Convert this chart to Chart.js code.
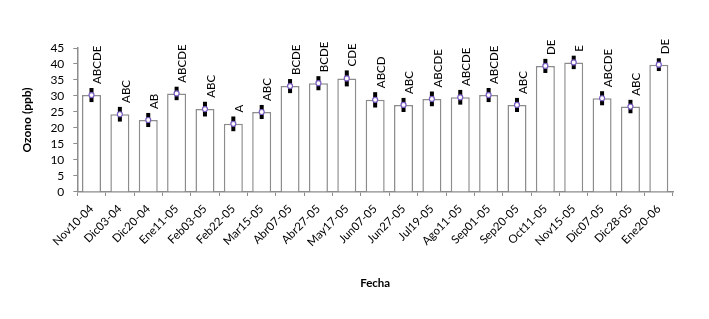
<!DOCTYPE html>
<html><head><meta charset="utf-8">
<script src="https://cdn.jsdelivr.net/npm/chart.js@4/dist/chart.umd.min.js"></script>
<style>html,body{margin:0;padding:0;background:#fff}#wrap{width:709px;height:319px}</style>
</head><body><div id="wrap"><canvas id="c" width="709" height="319"></canvas></div>
<script>
const categories = ["Nov10-04","Dic03-04","Dic20-04","Ene11-05","Feb03-05","Feb22-05","Mar15-05","Abr07-05","Abr27-05","May17-05","Jun07-05","Jun27-05","Jul19-05","Ago11-05","Sep01-05","Sep20-05","Oct11-05","Nov15-05","Dic07-05","Dic28-05","Ene20-06"];
const ozone = [30.3,24.3,22.5,30.8,25.9,21.3,25.0,33.1,34.0,35.5,28.8,27.2,29.1,29.6,30.3,27.2,39.4,40.5,29.3,26.7,39.8];
const errors = [2.2,2.3,2.2,2.1,2.3,2.3,2.2,2.2,2.2,2.5,2.4,2.2,2.3,2.3,2.2,2.2,2.2,2.1,2.2,2.1,2.0];
const letters = ["ABCDE","ABC","AB","ABCDE","ABC","A","ABC","BCDE","BCDE","CDE","ABCD","ABC","ABCDE","ABCDE","ABCDE","ABC","DE","E","ABCDE","ABC","DE"];
const yMin = 0, yMax = 45, yStep = 5;

const FONT = "Lato";
const errPlugin = {
  id: 'errLetters',
  afterDatasetDraw(chart, args) {
    if (args.index !== 0) return;
    const ctx = chart.ctx, y = chart.scales.y, x = chart.scales.x;
    ctx.save();
    ozone.forEach((v, i) => {
      const px = x.getPixelForValue(i);
      const top = y.getPixelForValue(v + errors[i]);
      const bot = y.getPixelForValue(v - errors[i]);
      ctx.strokeStyle = '#000';
      ctx.lineWidth = 4;
      ctx.beginPath(); ctx.moveTo(px, top); ctx.lineTo(px, bot); ctx.stroke();
      ctx.save();
      ctx.translate(px + 6, top - 4);
      ctx.rotate(-Math.PI / 2);
      ctx.fillStyle = '#000';
      ctx.font = '11.5px ' + FONT;
      ctx.textAlign = 'left';
      ctx.textBaseline = 'middle';
      ctx.fillText(letters[i], 0, 0);
      ctx.restore();
    });
    ctx.restore();
  }
};

new Chart(document.getElementById('c'), {
  data: {
    labels: categories,
    datasets: [
      { type: 'bar', data: ozone, backgroundColor: '#ffffff', borderColor: '#8c8c8c', borderWidth: 1.5, categoryPercentage: 1, barPercentage: 0.67, order: 2 },
      { type: 'line', data: ozone, showLine: false, pointStyle: 'circle', pointRadius: 2.5, pointBackgroundColor: '#ffffff', pointBorderColor: '#7b5cc4', pointBorderWidth: 1.2, order: 1 }
    ]
  },
  options: {
    responsive: false, animation: false,
    layout: { padding: { left: 20, right: 36, top: 48, bottom: 29 } },
    plugins: { legend: { display: false }, tooltip: { enabled: false } },
    scales: {
      x: {
        offset: true,
        grid: { offset: true, drawOnChartArea: false, drawTicks: true, tickLength: 4, color: '#8c8c8c' },
        border: { color: '#8c8c8c', width: 1.5 },
        ticks: { minRotation: 45, maxRotation: 45, color: '#000', font: { family: FONT, size: 11.5 }, padding: 6, autoSkip: false },
        title: { display: true, text: 'Fecha', color: '#000', font: { family: FONT, size: 11.5, weight: 'bold' }, padding: { top: 21, bottom: 0 } }
      },
      y: {
        min: yMin, max: yMax,
        grid: { drawOnChartArea: false, drawTicks: true, tickLength: 4, color: '#8c8c8c' },
        border: { color: '#8c8c8c', width: 1.5 },
        ticks: { stepSize: yStep, autoSkip: false, color: '#000', font: { family: FONT, size: 12 }, padding: 9 },
        title: { display: true, text: 'Ozono (ppb)', color: '#000', font: { family: FONT, size: 12, weight: 'bold' }, padding: { top: 0, bottom: 7 } }
      }
    }
  },
  plugins: [errPlugin]
});
</script></body></html>
